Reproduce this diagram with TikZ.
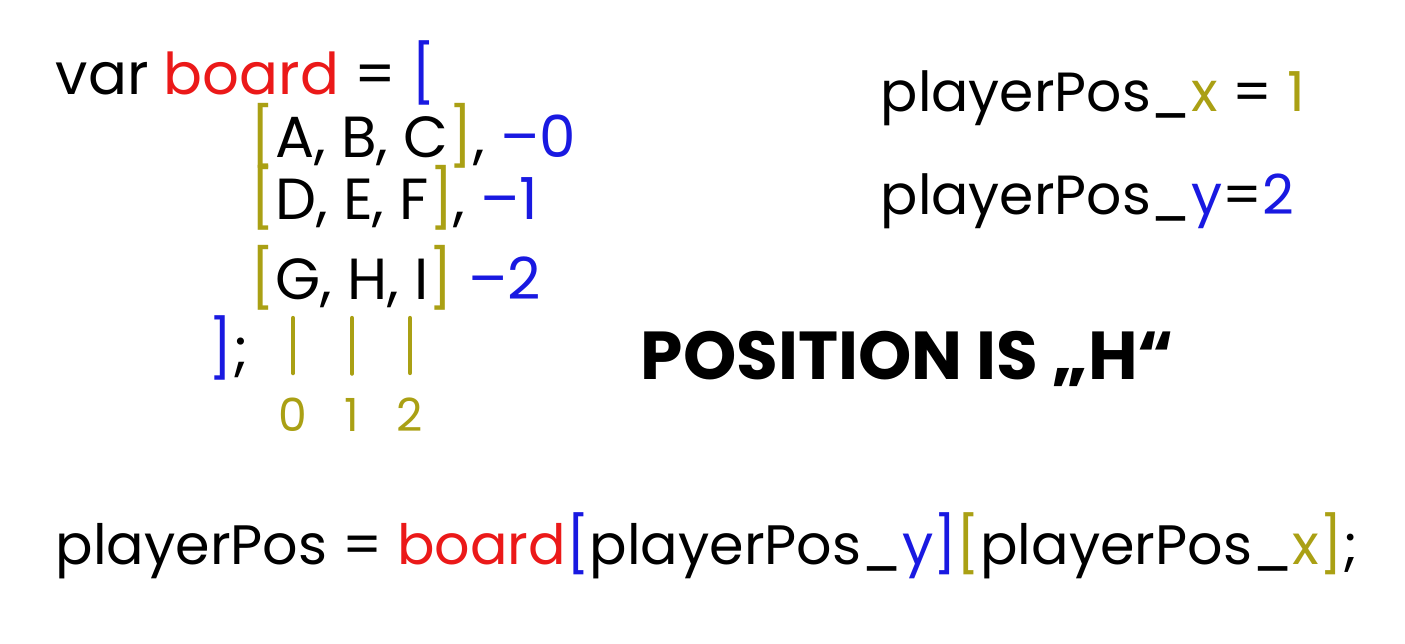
\documentclass[tikz,border=0pt]{standalone}
\usepackage{fontspec}
\setmainfont{Poppins}
\definecolor{codered}{RGB}{235,25,25}
\definecolor{codeblue}{RGB}{25,25,225}
\definecolor{codeolive}{RGB}{170,160,20}
\begin{document}
\begin{tikzpicture}[
    codetext/.style={
        anchor=base west, inner sep=0pt, text=black,
        font=\fontsize{16.4}{20}\selectfont
    },
    rowtext/.style={
        anchor=base west, inner sep=0pt, text=black,
        font=\fontsize{16.5}{20}\selectfont
    },
    postext/.style={
        anchor=base west, inner sep=0pt, text=black,
        font=\fontsize{15.7}{19}\selectfont
    },
    bigtext/.style={
        anchor=base west, inner sep=0pt, text=black,
        font=\fontsize{15.8}{20}\selectfont
    },
    titletext/.style={
        anchor=base west, inner sep=0pt, text=black,
        font=\fontsize{19.3}{23}\selectfont\bfseries
    },
    idxtext/.style={
        anchor=base, inner sep=0pt, text=codeolive,
        font=\fontsize{13}{16}\selectfont
    },
    idxline/.style={
        draw=codeolive, line width=1.2pt, line cap=round, shorten >=7pt
    }
]
\useasboundingbox (0,0) rectangle (14.05,6.44);

% Board definition
\node[codetext] (varline) at (0.55,5.49) {var \textcolor{codered}{board} = \textcolor{codeblue}{[}};
\node[rowtext] (rowA) at (2.50,4.86) {\textcolor{codeolive}{[}A, B, C\textcolor{codeolive}{]}, \textcolor{codeblue}{--0}};
\node[rowtext] (rowB) at (2.50,4.24) {\textcolor{codeolive}{[}D, E, F\textcolor{codeolive}{]}, \textcolor{codeblue}{--1}};
\node[rowtext] (rowC) at (2.50,3.44) {\textcolor{codeolive}{[}G, H, I\textcolor{codeolive}{]} \textcolor{codeblue}{--2}};
\node[codetext] (closeline) at (2.08,2.74) {\textcolor{codeblue}{]};};

% Column indices
\node[idxtext] (idx0) at (2.93,2.12) {0};
\node[idxtext] (idx1) at (3.52,2.12) {1};
\node[idxtext] (idx2) at (4.10,2.12) {2};
\coordinate (top0) at (2.93,3.26);
\coordinate (top1) at (3.52,3.26);
\coordinate (top2) at (4.10,3.26);
\draw[idxline] (top0) -- (idx0.north);
\draw[idxline] (top1) -- (idx1.north);
\draw[idxline] (top2) -- (idx2.north);

% Player position
\node[postext] (posx) at (8.80,5.32) {playerPos\_\textcolor{codeolive}{x} = \textcolor{codeolive}{1}};
\node[postext] (posy) at (8.80,4.29) {playerPos\_\textcolor{codeblue}{y}=\textcolor{codeblue}{2}};
\node[titletext] (result) at (6.40,2.64) {POSITION IS „H“};

% Lookup
\node[bigtext] (lookup) at (0.55,0.79) {playerPos = \textcolor{codered}{board}\textcolor{codeblue}{[}playerPos\_\textcolor{codeblue}{y}\textcolor{codeblue}{]}\textcolor{codeolive}{[}playerPos\_\textcolor{codeolive}{x}\textcolor{codeolive}{]};};

\end{tikzpicture}
\end{document}
